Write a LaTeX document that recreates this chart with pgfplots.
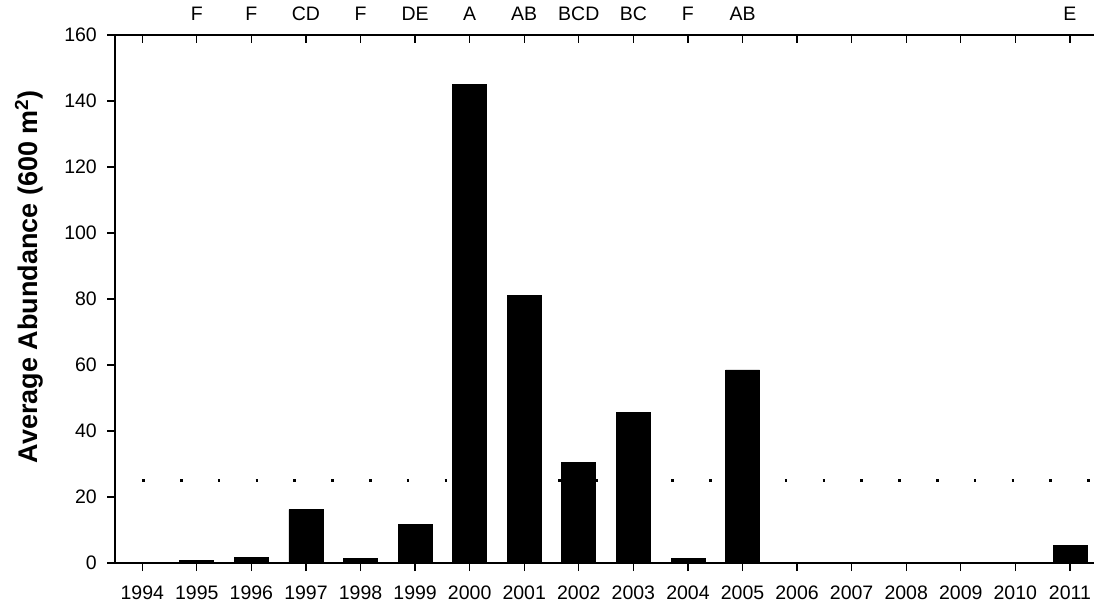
\documentclass[border=0pt]{standalone}
\usepackage{fontspec}
\setmainfont{Liberation Sans}
\usepackage{pgfplots}
\pgfplotsset{compat=1.18}

\begin{document}
\begin{tikzpicture}
\pgfplotsset{
  common/.style={
    scale only axis,
    width=979pt, height=528pt,
    at={(0pt,0pt)}, anchor=south west,
    xmin=1993.5, xmax=2011.44,
    ymin=0, ymax=160,
    xtick={1994,...,2011},
    /pgf/number format/assume math mode=true,
    /pgf/number format/1000 sep={},
    tick style={line width=1.3pt, black},
    major tick length=8pt,
    axis line style={line width=1.3pt},
    tick label style={font=\fontsize{19.5}{22}\selectfont},
  }
}
% main axis: bars, left and bottom axis lines
\begin{axis}[common,
  axis x line*=bottom, axis y line*=left,
  tick align=outside,
  ytick={0,20,...,160},
  xticklabel style={inner sep=0pt, yshift=-15pt},
  yticklabel style={inner sep=0pt, xshift=-10pt},
  ylabel={\textbf{Average Abundance (600 m\textsuperscript{2})}},
  ylabel style={at={(axis description cs:-0.088,0.542)}, anchor=center,
    font=\fontsize{27}{30}\selectfont},
]
  % reference level
  \addplot[black, line width=2.5pt, dash pattern=on 2.5pt off 35.3pt]
    coordinates {(1994,25) (2011.44,25)};
  \addplot[ybar, bar width=34pt, bar shift=0pt, fill=black, draw=black,
    line width=0.8pt]
    coordinates {
      (1994,0) (1995,0.8) (1996,1.7) (1997,16.2) (1998,1.4) (1999,11.6)
      (2000,145) (2001,81.2) (2002,30.4) (2003,45.5) (2004,1.5) (2005,58.5)
      (2006,0) (2007,0) (2008,0) (2009,0) (2010,0) (2011,5.4)
    };
\end{axis}
% top axis with group letters
\begin{axis}[common,
  axis x line*=top, axis y line=none,
  tick align=inside,
  xticklabels={{},F,F,CD,F,DE,A,AB,BCD,BC,F,AB,{},{},{},{},{},E},
  xticklabel style={inner sep=0pt, anchor=base, yshift=14pt},
]
\end{axis}
\pgfresetboundingbox
\path[use as bounding box] (-115pt,-42pt) rectangle (979pt,563pt);
\end{tikzpicture}
\end{document}
